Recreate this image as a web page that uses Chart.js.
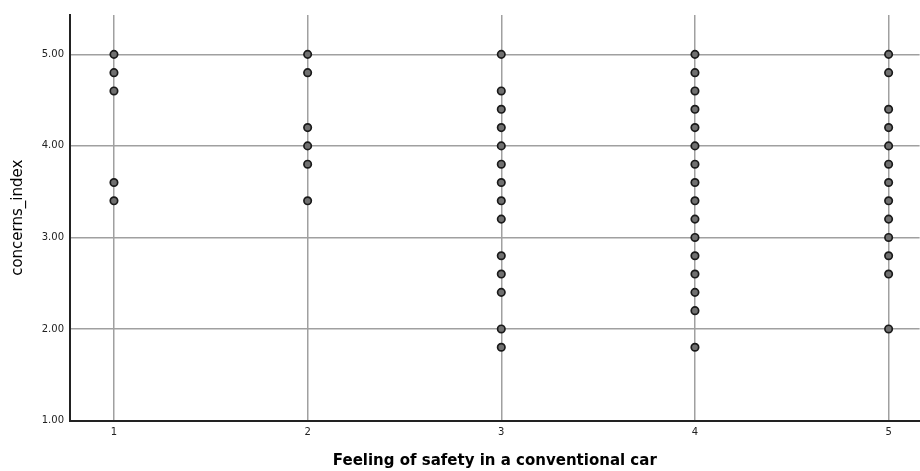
<!DOCTYPE html>
<html>
<head>
<meta charset="utf-8">
<script src="https://cdn.jsdelivr.net/npm/chart.js@4"></script>
<style>
  html, body { margin: 0; padding: 0; background: #fff; overflow: hidden; }
  #wrap { width: 920px; height: 471px; overflow: hidden; }
</style>
</head>
<body>
<div id="wrap"><canvas id="c" width="925" height="471"></canvas></div>
<script>
// Categories on the x axis (Feeling of safety in a conventional car)
const categories = [1, 2, 3, 4, 5];

// concerns_index values observed at each category
const valuesAt1 = [5.0, 4.8, 4.6, 3.6, 3.4];
const valuesAt2 = [5.0, 4.8, 4.2, 4.0, 3.8, 3.4];
const valuesAt3 = [5.0, 4.6, 4.4, 4.2, 4.0, 3.8, 3.6, 3.4, 3.2, 2.8, 2.6, 2.4, 2.0, 1.8];
const valuesAt4 = [5.0, 4.8, 4.6, 4.4, 4.2, 4.0, 3.8, 3.6, 3.4, 3.2, 3.0, 2.8, 2.6, 2.4, 2.2, 1.8];
const valuesAt5 = [5.0, 4.8, 4.4, 4.2, 4.0, 3.8, 3.6, 3.4, 3.2, 3.0, 2.8, 2.6, 2.0];

// Tick labels
const xTicks = [1, 2, 3, 4, 5];
const yTicks = [1, 2, 3, 4, 5];

const valueLists = [valuesAt1, valuesAt2, valuesAt3, valuesAt4, valuesAt5];
const points = [];
categories.forEach((cat, i) => {
  valueLists[i].forEach(v => points.push({ x: cat, y: v }));
});

const FONT = "'DejaVu Sans', 'Liberation Sans', Arial, sans-serif";

new Chart(document.getElementById('c'), {
  type: 'scatter',
  data: {
    datasets: [{
      data: points,
      pointRadius: 3.7,
      pointHoverRadius: 3.7,
      pointBackgroundColor: '#707070',
      pointBorderColor: '#1a1a1a',
      pointBorderWidth: 1.7
    }]
  },
  options: {
    responsive: false,
    animation: false,
    events: [],
    layout: { padding: { top: 15, right: 0, left: 0, bottom: 0 } },
    plugins: { legend: { display: false }, tooltip: { enabled: false } },
    scales: {
      x: {
        type: 'linear',
        min: 0.773,
        max: 5.16,
        afterBuildTicks: s => { s.ticks = xTicks.map(v => ({ value: v })); },
        afterFit: s => { s.height = 50.5; },
        grid: { color: '#a0a0a0', lineWidth: 1.5, drawTicks: false },
        border: { display: true, color: '#222', width: 2 },
        ticks: {
          padding: 6,
          color: '#222',
          font: { family: FONT, size: 10 },
          callback: v => String(v)
        },
        title: {
          display: true,
          text: 'Feeling of safety in a conventional car',
          color: '#000',
          font: { family: FONT, size: 15, weight: 'bold' },
          padding: { top: 0, bottom: 1 }
        }
      },
      y: {
        type: 'linear',
        min: 1,
        max: 5.43,
        afterBuildTicks: s => { s.ticks = yTicks.map(v => ({ value: v })); },
        afterFit: s => { s.width = 70; },
        grid: { color: '#a0a0a0', lineWidth: 1.5, drawTicks: false },
        border: { display: true, color: '#222', width: 2 },
        ticks: {
          padding: 6,
          color: '#222',
          font: { family: FONT, size: 10 },
          callback: v => Number(v).toFixed(2)
        },
        title: {
          display: true,
          text: 'concerns_index',
          color: '#000',
          font: { family: FONT, size: 15 },
          padding: { top: 9, bottom: 0 }
        }
      }
    }
  }
});
</script>
</body>
</html>
